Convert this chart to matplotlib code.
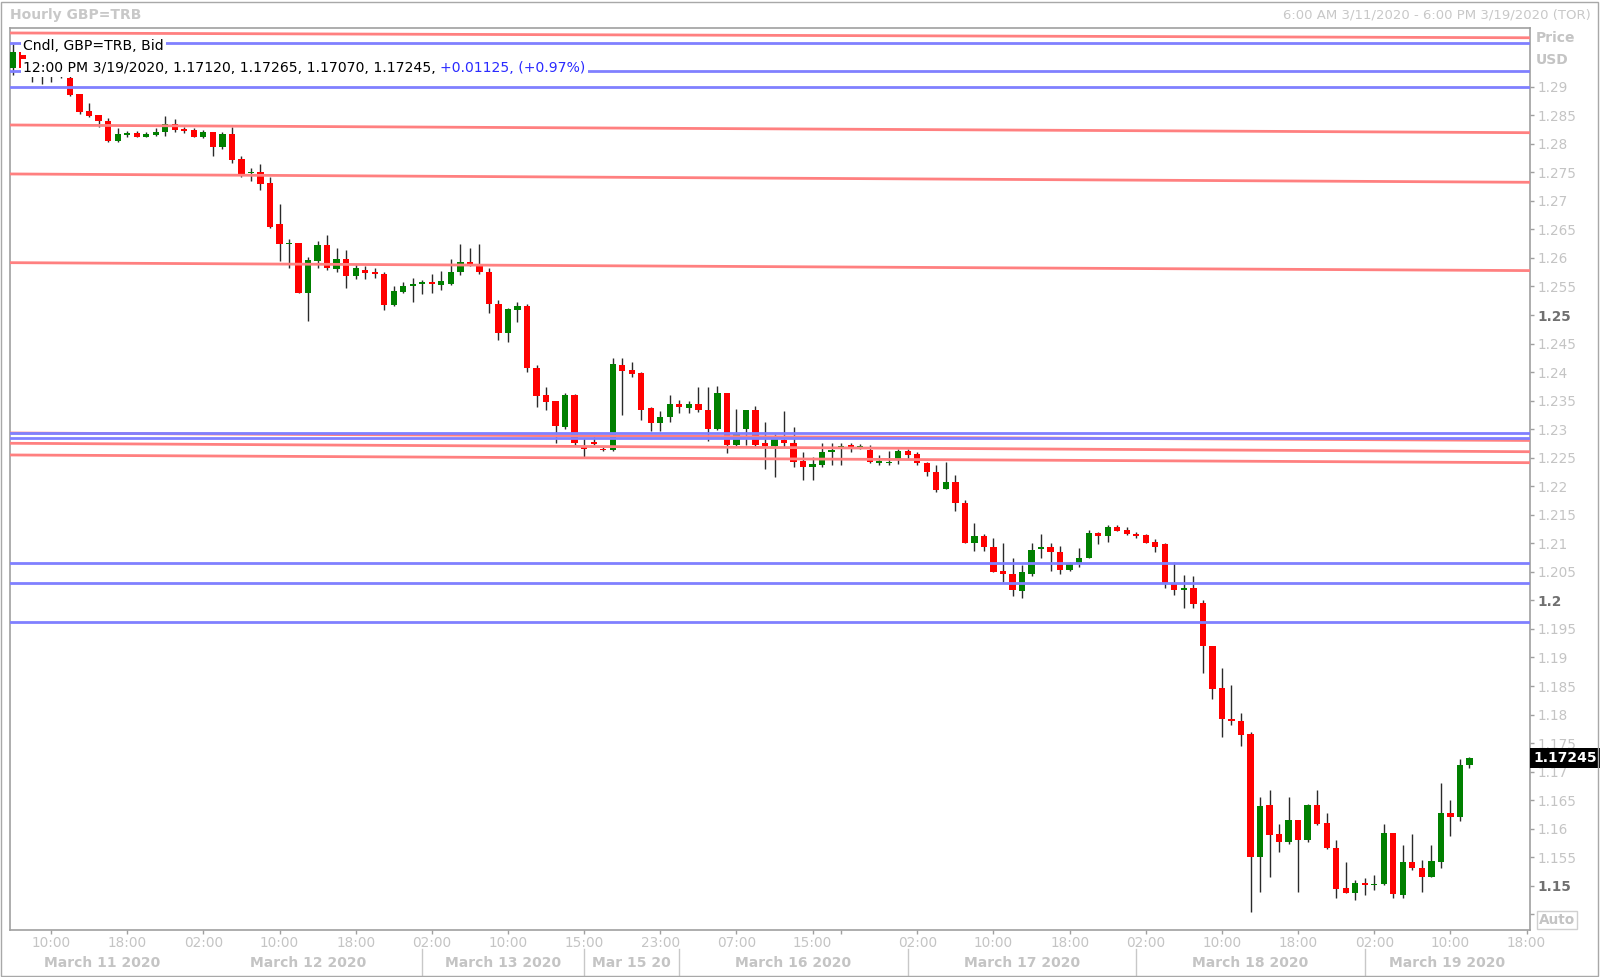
import matplotlib
matplotlib.use('Agg')
import matplotlib.pyplot as plt
import matplotlib.transforms as mtransforms
from matplotlib.patches import Rectangle
import numpy as np
import pandas as pd

plt.rcParams['font.family'] = ['DejaVu Sans']

# ---------------- data ----------------
opens = [1.2932, 1.2961, 1.2922, 1.2925, 1.2920, 1.2923, 1.2916, 1.2887, 1.2857, 1.2850,
         1.2840, 1.2804, 1.2815, 1.2818, 1.2812, 1.2815, 1.2820, 1.2835, 1.2826, 1.2824,
         1.2812, 1.2820, 1.2795, 1.2817, 1.2773, 1.2748, 1.2750, 1.2732, 1.2660, 1.2624,
         1.2626, 1.2538, 1.2595, 1.2622, 1.2581, 1.2598, 1.2568, 1.2578, 1.2575, 1.2571,
         1.2517, 1.2541, 1.2550, 1.2554, 1.2557, 1.2553, 1.2555, 1.2575, 1.2592, 1.2590,
         1.2576, 1.2519, 1.2468, 1.2509, 1.2516, 1.2408, 1.2360, 1.2350, 1.2304, 1.2360,
         1.2268, 1.2277, 1.2266, 1.2263, 1.2412, 1.2404, 1.2398, 1.2337, 1.2310, 1.2321,
         1.2344, 1.2337, 1.2344, 1.2334, 1.2300, 1.2363, 1.2273, 1.2300, 1.2333, 1.2275,
         1.2270, 1.2281, 1.2276, 1.2244, 1.2233, 1.2237, 1.2260, 1.2269, 1.2272, 1.2270,
         1.2264, 1.2240, 1.2241, 1.2247, 1.2262, 1.2256, 1.2241, 1.2225, 1.2195, 1.2208,
         1.2171, 1.2101, 1.2113, 1.2094, 1.2052, 1.2047, 1.2017, 1.2047, 1.2090, 1.2094,
         1.2085, 1.2053, 1.2064, 1.2075, 1.2118, 1.2112, 1.2129, 1.2123, 1.2117, 1.2114,
         1.2103, 1.2098, 1.2030, 1.2018, 1.2021, 1.1995, 1.1920, 1.1846, 1.1792, 1.1789,
         1.1766, 1.1550, 1.1642, 1.1591, 1.1576, 1.1615, 1.1580, 1.1642, 1.1610, 1.1567,
         1.1496, 1.1488, 1.1505, 1.1501, 1.1503, 1.1592, 1.1484, 1.1542, 1.1532, 1.1516,
         1.1542, 1.1627, 1.1620, 1.17120]
highs = [1.2975, 1.2966, 1.2930, 1.2932, 1.2930, 1.2928, 1.2920, 1.2888, 1.2871, 1.2851,
         1.2845, 1.2827, 1.2823, 1.2823, 1.2821, 1.2828, 1.2849, 1.2843, 1.2830, 1.2827,
         1.2824, 1.2821, 1.2821, 1.2830, 1.2779, 1.2758, 1.2764, 1.2742, 1.2694, 1.2634,
         1.2627, 1.2601, 1.2630, 1.2641, 1.2617, 1.2614, 1.2589, 1.2585, 1.2582, 1.2575,
         1.2550, 1.2558, 1.2564, 1.2561, 1.2571, 1.2577, 1.2598, 1.2624, 1.2618, 1.2624,
         1.2583, 1.2527, 1.2512, 1.2522, 1.2520, 1.2412, 1.2373, 1.2350, 1.2363, 1.2362,
         1.2284, 1.2287, 1.2268, 1.2424, 1.2424, 1.2418, 1.2401, 1.2339, 1.2332, 1.2360,
         1.2351, 1.2350, 1.2373, 1.2373, 1.2375, 1.2363, 1.2336, 1.2334, 1.2340, 1.2313,
         1.2292, 1.2331, 1.2304, 1.2260, 1.2252, 1.2275, 1.2275, 1.2276, 1.2275, 1.2274,
         1.2272, 1.2255, 1.2262, 1.2265, 1.2265, 1.2260, 1.2243, 1.2237, 1.2243, 1.2220,
         1.2176, 1.2136, 1.2116, 1.2109, 1.2101, 1.2075, 1.2062, 1.2100, 1.2116, 1.2100,
         1.2095, 1.2068, 1.2091, 1.2123, 1.2120, 1.2132, 1.2132, 1.2129, 1.2120, 1.2116,
         1.2107, 1.2100, 1.2068, 1.2044, 1.2043, 1.2001, 1.1920, 1.1881, 1.1852, 1.1802,
         1.1770, 1.1655, 1.1667, 1.1609, 1.1655, 1.1615, 1.1644, 1.1668, 1.1627, 1.1580,
         1.1541, 1.1511, 1.1513, 1.1519, 1.1609, 1.1592, 1.1571, 1.1591, 1.1545, 1.1571,
         1.1681, 1.1651, 1.1722, 1.17265]
lows = [1.2920, 1.2928, 1.2909, 1.2904, 1.2909, 1.2916, 1.2883, 1.2852, 1.2847, 1.2830,
        1.2803, 1.2803, 1.2812, 1.2811, 1.2811, 1.2814, 1.2814, 1.2820, 1.2818, 1.2811,
        1.2810, 1.2779, 1.2791, 1.2766, 1.2741, 1.2735, 1.2719, 1.2652, 1.2595, 1.2582,
        1.2538, 1.2490, 1.2582, 1.2579, 1.2576, 1.2547, 1.2563, 1.2563, 1.2565, 1.2509,
        1.2515, 1.2538, 1.2523, 1.2536, 1.2538, 1.2544, 1.2553, 1.2570, 1.2585, 1.2571,
        1.2503, 1.2456, 1.2453, 1.2488, 1.2401, 1.2339, 1.2334, 1.2276, 1.2300, 1.2272,
        1.2252, 1.2272, 1.2262, 1.2262, 1.2325, 1.2391, 1.2316, 1.2296, 1.2296, 1.2313,
        1.2328, 1.2329, 1.2330, 1.2280, 1.2299, 1.2258, 1.2269, 1.2272, 1.2269, 1.2230,
        1.2216, 1.2269, 1.2234, 1.2211, 1.2211, 1.2233, 1.2237, 1.2237, 1.2260, 1.2266,
        1.2240, 1.2237, 1.2238, 1.2239, 1.2247, 1.2237, 1.2218, 1.2190, 1.2195, 1.2157,
        1.2101, 1.2087, 1.2087, 1.2050, 1.2033, 1.2007, 1.2004, 1.2043, 1.2074, 1.2052,
        1.2046, 1.2052, 1.2059, 1.2075, 1.2099, 1.2103, 1.2121, 1.2115, 1.2110, 1.2100,
        1.2084, 1.2021, 1.2009, 1.1986, 1.1986, 1.1872, 1.1828, 1.1760, 1.1782, 1.1745,
        1.1455, 1.1490, 1.1516, 1.1560, 1.1574, 1.1490, 1.1577, 1.1607, 1.1564, 1.1478,
        1.1487, 1.1475, 1.1484, 1.1493, 1.1501, 1.1478, 1.1478, 1.1527, 1.1490, 1.1516,
        1.1532, 1.1587, 1.1614, 1.17070]
closes = [1.2961, 1.2932, 1.2925, 1.2920, 1.2923, 1.2918, 1.2886, 1.2856, 1.2849, 1.2839,
          1.2804, 1.2817, 1.2818, 1.2812, 1.2817, 1.2820, 1.2834, 1.2824, 1.2822, 1.2812,
          1.2820, 1.2795, 1.2817, 1.2772, 1.2746, 1.2751, 1.2730, 1.2655, 1.2624, 1.2626,
          1.2538, 1.2596, 1.2622, 1.2582, 1.2598, 1.2568, 1.2582, 1.2574, 1.2572, 1.2518,
          1.2542, 1.2551, 1.2555, 1.2557, 1.2554, 1.2559, 1.2576, 1.2593, 1.2587, 1.2575,
          1.2519, 1.2468, 1.2510, 1.2516, 1.2407, 1.2358, 1.2348, 1.2306, 1.2360, 1.2276,
          1.2265, 1.2275, 1.2263, 1.2415, 1.2402, 1.2397, 1.2334, 1.2310, 1.2322, 1.2344,
          1.2338, 1.2344, 1.2334, 1.2300, 1.2363, 1.2273, 1.2291, 1.2333, 1.2273, 1.2270,
          1.2284, 1.2275, 1.2243, 1.2233, 1.2239, 1.2260, 1.2264, 1.2271, 1.2269, 1.2270,
          1.2243, 1.2244, 1.2243, 1.2262, 1.2255, 1.2240, 1.2225, 1.2193, 1.2208, 1.2170,
          1.2101, 1.2113, 1.2093, 1.2050, 1.2047, 1.2018, 1.2050, 1.2089, 1.2094, 1.2084,
          1.2053, 1.2064, 1.2075, 1.2118, 1.2112, 1.2129, 1.2122, 1.2116, 1.2113, 1.2101,
          1.2094, 1.2031, 1.2018, 1.2021, 1.1994, 1.1920, 1.1845, 1.1792, 1.1788, 1.1765,
          1.1550, 1.1640, 1.1589, 1.1576, 1.1615, 1.1581, 1.1642, 1.1609, 1.1567, 1.1494,
          1.1488, 1.1505, 1.1501, 1.1504, 1.1592, 1.1486, 1.1542, 1.1531, 1.1516, 1.1544,
          1.1627, 1.1620, 1.1712, 1.17245]

# horizontal study lines (price levels)
blue_levels = [1.29771, 1.29275, 1.2900, 1.22928, 1.22840, 1.2065, 1.2030, 1.19622]
red_levels_start = [1.29941, 1.28329, 1.27471, 1.25917, 1.22933, 1.22753, 1.22548]
red_levels_end = [1.29857, 1.28194, 1.27325, 1.25778, 1.22802, 1.22605, 1.22413]

# time axis (hourly slots, weekend removed)
session_1 = pd.date_range('2020-03-11 06:00', '2020-03-13 17:00', freq='h')
session_2 = pd.date_range('2020-03-15 15:00', '2020-03-19 18:00', freq='h')
slots = session_1.append(session_2)

tick_times = ['2020-03-11 10:00', '2020-03-11 18:00', '2020-03-12 02:00', '2020-03-12 10:00',
              '2020-03-12 18:00', '2020-03-13 02:00', '2020-03-13 10:00', '2020-03-15 15:00',
              '2020-03-15 23:00', '2020-03-16 07:00', '2020-03-16 15:00', '2020-03-16 18:00',
              '2020-03-17 02:00', '2020-03-17 10:00', '2020-03-17 18:00', '2020-03-18 02:00',
              '2020-03-18 10:00', '2020-03-18 18:00', '2020-03-19 02:00', '2020-03-19 10:00',
              '2020-03-19 18:00']
unlabeled_ticks = ['2020-03-16 18:00']

day_starts = ['2020-03-12 01:00', '2020-03-13 01:00', '2020-03-15 15:00', '2020-03-16 01:00',
              '2020-03-17 01:00', '2020-03-18 01:00', '2020-03-19 01:00']
day_separators = ['2020-03-13 01:00', '2020-03-15 15:00', '2020-03-16 01:00',
                  '2020-03-17 01:00', '2020-03-18 01:00', '2020-03-19 01:00']
day_labels = ['March 11 2020', 'March 12 2020', 'March 13 2020', 'Mar 15 20',
              'March 16 2020', 'March 17 2020', 'March 18 2020', 'March 19 2020']

legend_line1 = 'Cndl, GBP=TRB, Bid'
legend_values = '12:00 PM 3/19/2020, 1.17120, 1.17265, 1.17070, 1.17245,'
legend_change = '+0.01125, (+0.97%)'
last_price = '1.17245'

# ---------------- figure ----------------
W, H = 1600, 977
fig = plt.figure(figsize=(W / 100, H / 100), dpi=100)
fig.patch.set_facecolor('white')
ax = fig.add_axes([10 / W, 1 - 930 / H, 1520 / W, (930 - 28) / H])

def slot(t):
    return slots.get_loc(pd.Timestamp(t))

XMIN, XMAX = -0.31, 159.36
ax.set_xlim(XMIN, XMAX)
ax.set_ylim(1.14226, 1.30028)

o = np.array(opens); h = np.array(highs); l = np.array(lows); c = np.array(closes)
x = np.arange(len(o))
up = c >= o
body_col = np.where(up, '#008000', '#ff0000')
ax.vlines(x, l, h, color='#2a2a2a', lw=1.0, zorder=2)
body_h = np.maximum(np.abs(c - o), 0.00026)
body_mid = (o + c) / 2
ax.bar(x, body_h, bottom=body_mid - body_h / 2, width=0.66, color=body_col,
       edgecolor='none', zorder=3)

# study lines
for s, e in zip(red_levels_start, red_levels_end):
    ax.plot([XMIN, XMAX], [s, e], color='#ff8080', lw=2.0, zorder=4,
            solid_capstyle='butt')
for b in blue_levels:
    ax.axhline(b, color='#8080ff', lw=2.0, zorder=4)

# spines
for sp in ax.spines.values():
    sp.set_color('#a0a0a0')
    sp.set_linewidth(1.2)

# y axis on right
yt = np.round(np.arange(1.145, 1.2901, 0.005), 3)
ax.yaxis.tick_right()
ax.set_yticks(yt)
ylabels = []
for v in yt:
    s = f'{v:.3f}'.rstrip('0').rstrip('.')
    ylabels.append('' if v < 1.1475 else s)
ax.set_yticklabels(ylabels)
ax.tick_params(axis='y', direction='out', length=3, width=1, color='#a0a0a0',
               labelsize=9.8, labelcolor='#c4c4c4', pad=2.5)
for v, lab in zip(yt, ax.get_yticklabels()):
    if abs(v * 20 - round(v * 20)) < 1e-6:
        lab.set_fontweight('bold')
        lab.set_color('#707070')

# x ticks (manual labels)
tick_pos = [slot(t) for t in tick_times]
ax.set_xticks(tick_pos)
ax.set_xticklabels([])
ax.tick_params(axis='x', direction='out', length=3, width=1, color='#a0a0a0')

bt = mtransforms.blended_transform_factory(ax.transData, fig.transFigure)
for t, p in zip(tick_times, tick_pos):
    if t in unlabeled_ticks:
        continue
    ax.text(p, 1 - 943 / H, pd.Timestamp(t).strftime('%H:%M'), transform=bt,
            ha='center', va='center', fontsize=9.8, color='#c4c4c4', clip_on=False)

edges = [XMIN] + [slot(t) for t in day_starts] + [XMAX]
for k, lab in enumerate(day_labels):
    cx = (edges[k] + edges[k + 1]) / 2
    ax.text(cx, 1 - 963 / H, lab, transform=bt, ha='center', va='center',
            fontsize=10, fontweight='bold', color='#c4c4c4', clip_on=False)
for t in day_separators:
    p = slot(t)
    ax.plot([p, p], [1 - 949 / H, 1 - 975 / H], transform=bt, color='#c8c8c8',
            lw=1, clip_on=False)

# legend (with white background)
t1 = ax.text(23 / W, 1 - 46 / H, legend_line1, transform=fig.transFigure,
             ha='left', va='center', fontsize=10.1, color='black', zorder=10,
             bbox=dict(facecolor='white', edgecolor='none', pad=1.5))
t2 = ax.text(23 / W, 1 - 72 / H, legend_values, transform=fig.transFigure,
             ha='left', va='baseline', fontsize=10.1, color='black', zorder=10,
             bbox=dict(facecolor='white', edgecolor='none', pad=1.5))
ax.annotate(legend_change, xy=(1, 0), xycoords=t2, xytext=(3.3, 0),
            textcoords='offset points', ha='left', va='bottom', fontsize=10.1,
            color='#2b2bff', zorder=10, annotation_clip=False,
            bbox=dict(facecolor='white', edgecolor='none', pad=1.5))

# header texts
fig.text(10 / W, 1 - 15.5 / H, 'Hourly GBP=TRB', ha='left', va='center', fontsize=10,
         fontweight='bold', color='#c8c8c8')
fig.text(1591 / W, 1 - 15.5 / H, '6:00 AM 3/11/2020 - 6:00 PM 3/19/2020 (TOR)',
         ha='right', va='center', fontsize=9.5, color='#c8c8c8')
fig.text(1536 / W, 1 - 38 / H, 'Price', ha='left', va='center', fontsize=10,
         fontweight='bold', color='#c4c4c4')
fig.text(1536 / W, 1 - 60 / H, 'USD', ha='left', va='center', fontsize=10,
         fontweight='bold', color='#c4c4c4')

# last price tag
yb = mtransforms.blended_transform_factory(fig.transFigure, ax.transData)
ax.text(1533 / W, closes[-1], last_price, transform=yb, ha='left', va='center',
        fontsize=10, fontweight='bold', color='white', zorder=12, clip_on=False,
        bbox=dict(facecolor='black', edgecolor='none', pad=2.2))

# Auto box
fig.text(1557 / W, 1 - 920 / H, 'Auto', ha='center', va='center', fontsize=9.8,
         fontweight='bold', color='#c4c4c4', zorder=12,
         bbox=dict(facecolor='white', edgecolor='#d0d0d0', pad=1.5, lw=1))

# outer frame
fig.patches.append(Rectangle((1 / W, 1 / H), 1597 / W, 974 / H, transform=fig.transFigure,
                             fill=False, edgecolor='#a8a8a8', lw=1))

fig.savefig('out.png', dpi=100, facecolor='white')
